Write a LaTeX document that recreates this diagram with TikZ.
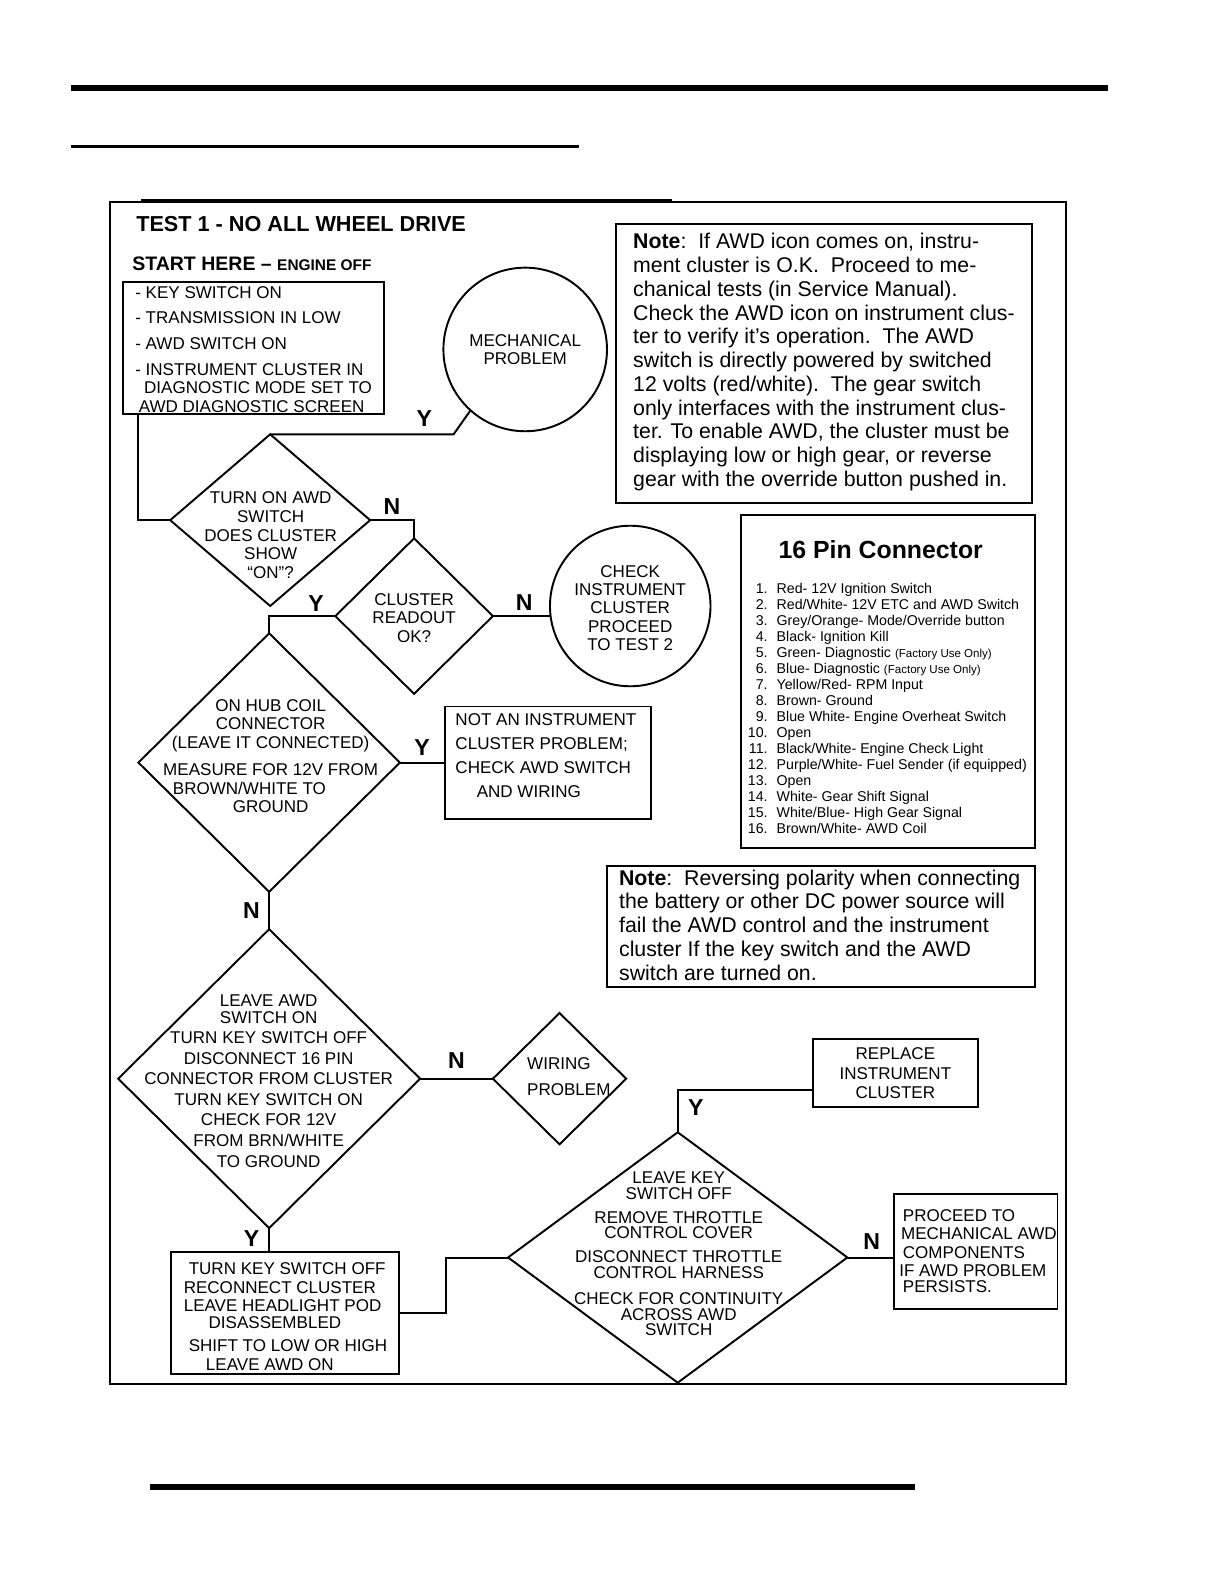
\documentclass[tikz,border=0pt]{standalone}
\usepackage{fontspec}
\setmainfont{Liberation Sans}
\usetikzlibrary{shapes.geometric}

\begin{document}
\begin{tikzpicture}[x=0.02cm, y=-0.02cm, scale=1.01, every node/.append style={transform shape},
    line width=1.1pt,
    box/.style={draw, rectangle, inner sep=0pt, outer sep=0pt},
    dia/.style={draw, diamond, inner sep=0pt, outer sep=0pt},
    ring/.style={draw, circle, inner sep=0pt, outer sep=0pt},
    flow/.style={inner sep=0pt, align=center, font=\fontsize{9.6}{10.5}\selectfont},
    yn/.style={inner sep=0pt, font=\fontsize{13}{13}\selectfont\bfseries},
    note/.style={inner sep=0pt, align=left, anchor=north west, font=\fontsize{12}{13.4}\selectfont},
    pinline/.style={inner sep=0pt, font=\fontsize{8}{9}\selectfont}]

  \useasboundingbox (0,0) rectangle (1211.88,1568.32);

  % page rules and frame
  \draw[line width=3.4pt] (70,87) -- (1097,87);
  \draw[line width=1.7pt] (70,145) -- (573,145);
  \draw[line width=1.3pt] (140,198) -- (665,198);
  \draw[line width=3.4pt] (149,1472) -- (906,1472);
  \draw (109,200) rectangle (1055,1370);

  % headings
  \node[anchor=west, inner sep=0pt, font=\fontsize{12.2}{14}\selectfont\bfseries] (title) at (134,222) {TEST 1 - NO ALL WHEEL DRIVE};
  \node[anchor=west, inner sep=0pt, font=\fontsize{11}{13}\selectfont\bfseries] (starthere) at (130,261) {START HERE -- {\fontsize{8.7}{10}\selectfont ENGINE OFF}};

  % start box
  \node[box, minimum width=5.16cm, minimum height=2.62cm] (setup) at (251,344.5) {};
  \node[flow, align=left, anchor=north west] (setuptxt) at (133,283) {- KEY SWITCH ON\\[3.5pt]- TRANSMISSION IN LOW\\[4pt]- AWD SWITCH ON\\[4pt]- INSTRUMENT CLUSTER IN\\\hspace*{5pt}DIAGNOSTIC MODE SET TO\\\hspace*{2pt}AWD DIAGNOSTIC SCREEN};

  \node[ring, minimum size=3.24cm, flow, font=\fontsize{9.6}{10.2}\selectfont] (mech) at (520,346) {MECHANICAL\\PROBLEM};

  % notes
  \node[box, minimum width=8.24cm, minimum height=5.52cm] (note1) at (816,360) {};
  \node[note] (note1txt) at (626,230) {\textbf{Note}:\ \ If AWD icon comes on, instru-\\
    ment cluster is O.K.\ \ Proceed to me-\\
    chanical tests (in Service Manual).\\
    Check the AWD icon on instrument clus-\\
    ter to verify it's operation.\ \ The AWD\\
    switch is directly powered by switched\\
    12 volts (red/white).\ \ The gear switch\\
    only interfaces with the instrument clus-\\
    ter. To enable AWD, the cluster must be\\
    displaying low or high gear, or reverse\\
    gear with the override button pushed in.};

  \node[box, minimum width=5.82cm, minimum height=6.6cm] (pins) at (879.5,675) {};
  \node[inner sep=0pt, font=\fontsize{14}{16}\selectfont\bfseries] (pinhead) at (872,544) {16 Pin Connector};
  \foreach \wire [count=\i] in {{Red- 12V Ignition Switch}, {Red/White- 12V ETC and AWD Switch},
      {Grey/Orange- Mode/Override button}, {Black- Ignition Kill},
      {Green- Diagnostic {\fontsize{6.5}{7}\selectfont(Factory Use Only)}},
      {Blue- Diagnostic {\fontsize{6.5}{7}\selectfont(Factory Use Only)}},
      {Yellow/Red- RPM Input}, {Brown- Ground}, {Blue White- Engine Overheat Switch}, {Open},
      {Black/White- Engine Check Light}, {Purple/White- Fuel Sender (if equipped)}, {Open},
      {White- Gear Shift Signal}, {White/Blue- High Gear Signal}, {Brown/White- AWD Coil}} {
    \node[pinline, anchor=base east] (pn\i) at (761,{588+(\i-1)*15.8}) {\i.};
    \node[pinline, anchor=base west] (pw\i) at (768,{588+(\i-1)*15.8}) {\wire};
  }

  \node[box, minimum width=8.48cm, minimum height=2.4cm] (note2) at (813,917) {};
  \node[note] (note2txt) at (612,860) {\textbf{Note}:\ \ Reversing polarity when connecting\\
    the battery or other DC power source will\\
    fail the AWD control and the instrument\\
    cluster If the key switch and the AWD\\
    switch are turned on.};

  % decisions
  \node[dia, minimum width=3.96cm, minimum height=3.4cm] (awdon) at (267.5,515) {};
  \node[flow] (awdontxt) at (268,530) {TURN ON AWD\\SWITCH\\DOES CLUSTER\\SHOW\\``ON''?};

  \node[dia, minimum width=3.12cm, minimum height=3.08cm] (readout) at (410,610) {};
  \node[flow] (readouttxt) at (410,612) {CLUSTER\\READOUT\\OK?};

  \node[ring, minimum size=3.18cm] (test2) at (624,600) {};
  \node[flow, font=\fontsize{9.6}{10.35}\selectfont] (test2txt) at (624,602) {CHECK\\INSTRUMENT\\CLUSTER\\PROCEED\\TO TEST 2};

  \node[dia, minimum width=5.18cm, minimum height=5.12cm] (hub) at (266.5,755) {};
  \node[flow] (hubtxt) at (268,748.5) {ON HUB COIL\\CONNECTOR\\(LEAVE IT CONNECTED)\\[4.8pt]MEASURE FOR 12V FROM\\BROWN/WHITE TO\makebox[24pt]{}\\GROUND};

  \node[box, minimum width=4.08cm, minimum height=2.22cm] (notcl) at (543,755) {};
  \node[flow, align=left, anchor=north west, font=\fontsize{9.6}{13.5}\selectfont] (notcltxt) at (450,706) {NOT AN INSTRUMENT\\CLUSTER PROBLEM;\\CHECK AWD SWITCH\\\hspace*{12pt}AND WIRING};

  \node[dia, minimum width=5.98cm, minimum height=5.92cm] (unplug) at (266.5,1068) {};
  \node[flow, font=\fontsize{9.6}{11.6}\selectfont] (unplugtxt) at (266,1070.5) {LEAVE AWD\\[-2.5pt]SWITCH ON\\TURN KEY SWITCH OFF\\DISCONNECT 16 PIN\\CONNECTOR FROM CLUSTER\\TURN KEY SWITCH ON\\CHECK FOR 12V\\FROM BRN/WHITE\\TO GROUND};

  \node[dia, minimum width=2.64cm, minimum height=2.6cm] (wiring) at (554,1068) {};
  \node[flow, align=left, anchor=west, font=\fontsize{9.6}{14.7}\selectfont] (wiringtxt) at (521,1066) {WIRING\\PROBLEM};

  \node[box, minimum width=4.52cm, minimum height=2.4cm] (keyoff) at (282,1300) {};
  \node[flow, align=left, anchor=north west] (keyofftxt) at (181,1249) {\hspace*{2.8pt}TURN KEY SWITCH OFF\\RECONNECT CLUSTER\\LEAVE HEADLIGHT POD\\[-0.8pt]\hspace*{14pt}DISASSEMBLED\\[2.5pt]\hspace*{2.8pt}SHIFT TO LOW OR HIGH\\\hspace*{12.5pt}LEAVE AWD ON};

  \node[dia, minimum width=6.72cm, minimum height=4.96cm] (throttle) at (671,1245) {};
  \node[flow, font=\fontsize{9.6}{8.8}\selectfont] (throttletxt) at (672,1241.5) {LEAVE KEY\\SWITCH OFF\\[4.6pt]REMOVE THROTTLE\\CONTROL COVER\\[4.6pt]DISCONNECT THROTTLE\\CONTROL HARNESS\\[6pt]CHECK FOR CONTINUITY\\ACROSS AWD\\SWITCH};

  \node[box, minimum width=3.26cm, minimum height=1.34cm, flow, font=\fontsize{9.6}{10.8}\selectfont] (replace) at (886.5,1062.5) {REPLACE\\INSTRUMENT\\CLUSTER};

  \node[box, minimum width=3.24cm, minimum height=2.28cm] (mechawd) at (966,1239) {};
  \node[flow, align=left, anchor=north west, font=\fontsize{9.6}{10.2}\selectfont] (mechawdtxt) at (893,1197) {PROCEED TO\\\hspace*{-1pt}MECHANICAL AWD\\COMPONENTS\\\hspace*{-2pt}IF AWD PROBLEM\\[-1pt]PERSISTS.};

  % connectors
  \coordinate (ykink) at (449,430);
  \draw ([xshift=8.5pt]setup.south west) |- (awdon.west);
  \draw (awdon.north) -- (ykink) -- (mech.228);
  \draw (awdon.east) -| (readout.north);
  \draw (readout.east) -- (readout.east -| test2.west);
  \draw (readout.west) -| (hub.north);
  \draw (hub.east) -- (hub.east -| notcl.west);
  \draw (hub.south) -- (unplug.north);
  \draw (unplug.east) -- (wiring.west);
  \draw (unplug.south) -- (unplug.south |- keyoff.north);
  \draw (keyoff.east) -- ++(47,0) |- (throttle.west);
  \draw (throttle.north) |- ([yshift=-9.6pt]replace.west);
  \draw (throttle.east) -- (throttle.east -| mechawd.west);

  % answers
  \node[yn] (y1) at (420,414) {Y};
  \node[yn] (n1) at (388,502) {N};
  \node[yn] (y2) at (313,598) {Y};
  \node[yn] (n2) at (519,597) {N};
  \node[yn] (y3) at (418,740) {Y};
  \node[yn] (n3) at (249,902) {N};
  \node[yn] (n4) at (452,1050) {N};
  \node[yn] (y4) at (249,1226) {Y};
  \node[yn] (y5) at (689,1097) {Y};
  \node[yn] (n5) at (863,1229) {N};
\end{tikzpicture}
\end{document}
